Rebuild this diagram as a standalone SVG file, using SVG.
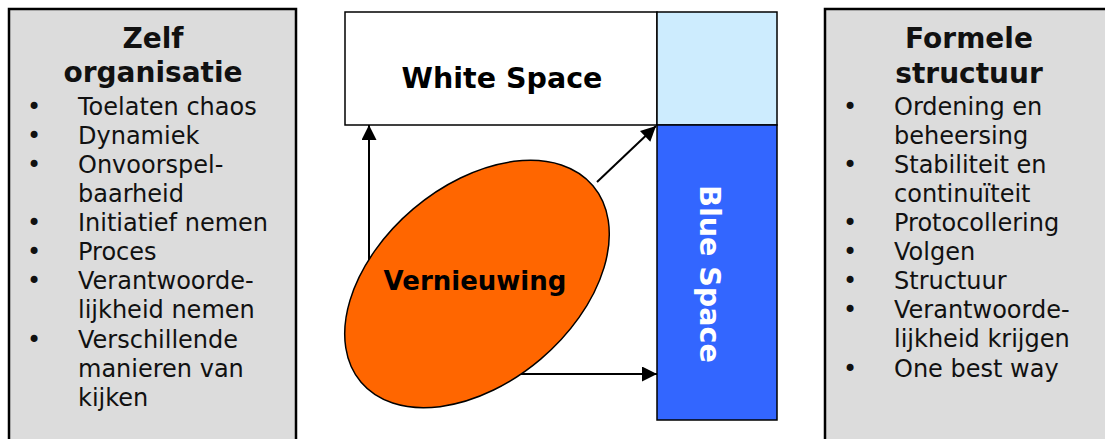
<svg xmlns="http://www.w3.org/2000/svg" width="1105" height="439" viewBox="0 0 1105 439">
<defs>
<style>
.box{fill:#dcdcdc;stroke:#000;stroke-width:2.5}
.t{font-family:"DejaVu Sans",Verdana,sans-serif;fill:#111}
.h{font-size:28px;font-weight:bold;text-anchor:middle}
.i{font-size:24px}
.b{font-size:24px;text-anchor:middle}
.big{font-family:"DejaVu Sans",Verdana,sans-serif;font-weight:bold;text-anchor:middle}
.c{stroke:#000;stroke-width:2;fill:none}
</style>
<marker id="ah" viewBox="0 0 10 10" refX="10" refY="5" markerWidth="17" markerHeight="15" markerUnits="userSpaceOnUse" orient="auto">
<path d="M0,0 L10,5 L0,10 z" fill="#000"/>
</marker>
</defs>
<rect width="1105" height="439" fill="#fff"/>
<g id="zelf">
<rect class="box" x="9" y="9" width="287" height="440"/>
<text class="t h" x="153" y="48">Zelf</text>
<text class="t h" x="153" y="82">organisatie</text>
<g class="t b">
<text x="34" y="115">•</text><text x="34" y="144">•</text><text x="34" y="173">•</text><text x="34" y="231">•</text><text x="34" y="260">•</text><text x="34" y="289">•</text><text x="34" y="348">•</text>
</g>
<g class="t i">
<text x="78" y="115">Toelaten chaos</text>
<text x="78" y="144">Dynamiek</text>
<text x="78" y="173">Onvoorspel-</text>
<text x="78" y="202">baarheid</text>
<text x="78" y="231">Initiatief nemen</text>
<text x="78" y="260">Proces</text>
<text x="78" y="289">Verantwoorde-</text>
<text x="78" y="318">lijkheid nemen</text>
<text x="78" y="348">Verschillende</text>
<text x="78" y="377">manieren van</text>
<text x="78" y="406">kijken</text>
</g>
</g>
<g id="formeel">
<rect class="box" x="825" y="9" width="300" height="440"/>
<text class="t h" x="969" y="48">Formele</text>
<text class="t h" x="969" y="83">structuur</text>
<g class="t b">
<text x="850" y="115">•</text><text x="850" y="173">•</text><text x="850" y="231">•</text><text x="850" y="260">•</text><text x="850" y="289">•</text><text x="850" y="318">•</text><text x="850" y="377">•</text>
</g>
<g class="t i">
<text x="894" y="115">Ordening en</text>
<text x="894" y="144">beheersing</text>
<text x="894" y="173">Stabiliteit en</text>
<text x="894" y="202">continuïteit</text>
<text x="894" y="231">Protocollering</text>
<text x="894" y="260">Volgen</text>
<text x="894" y="289">Structuur</text>
<text x="894" y="318">Verantwoorde-</text>
<text x="894" y="347">lijkheid krijgen</text>
<text x="894" y="377">One best way</text>
</g>
</g>
<g id="whitespace">
<rect x="345" y="12" width="312" height="113" fill="#fff" stroke="#000" stroke-width="1.5"/>
<text class="big" x="502" y="88" font-size="28.5" fill="#000">White Space</text>
</g>
<g id="corner">
<rect x="657" y="12" width="120" height="113" fill="#cdecfe" stroke="#000" stroke-width="1.5"/>
</g>
<g id="bluespace">
<rect x="657" y="125" width="120" height="295" fill="#3366ff" stroke="#000" stroke-width="1.5"/>
<text class="big" transform="translate(700,274) rotate(90)" font-size="28.5" fill="#fff">Blue Space</text>
</g>
<g id="connectors">
<line class="c" x1="369" y1="262" x2="369" y2="125" marker-end="url(#ah)"/>
<line class="c" x1="597" y1="182" x2="656" y2="126" marker-end="url(#ah)"/>
<line class="c" x1="513" y1="374" x2="657" y2="374" marker-end="url(#ah)"/>
</g>
<g id="vernieuwing">
<ellipse cx="477" cy="284" rx="152" ry="98.5" transform="rotate(-40.3 477 284)" fill="#ff6600" stroke="#000" stroke-width="1.5"/>
<text class="big" x="475" y="290" font-size="26" fill="#000">Vernieuwing</text>
</g>
</svg>
